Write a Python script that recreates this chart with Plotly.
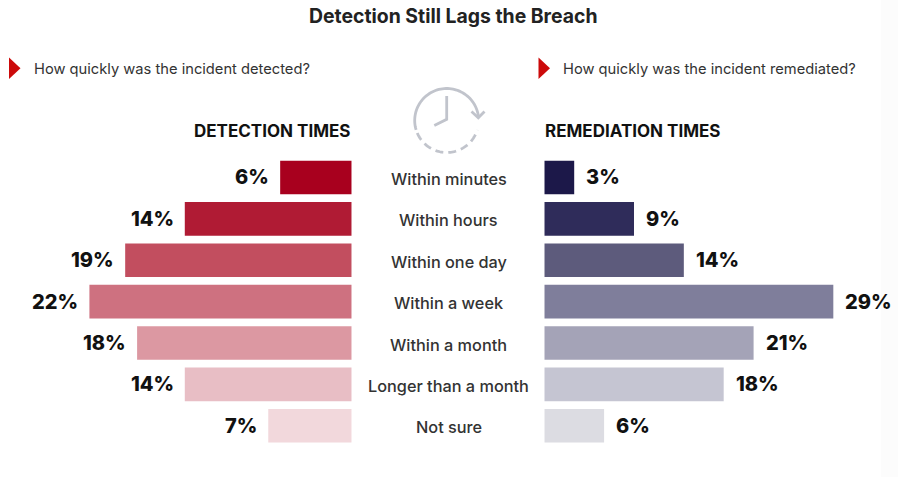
import numpy as np
import plotly.graph_objects as go

# ---------------- data ----------------
categories = ["Within minutes", "Within hours", "Within one day", "Within a week",
              "Within a month", "Longer than a month", "Not sure"]
detection = [6, 14, 19, 22, 18, 14, 7]
remediation = [3, 9, 14, 29, 21, 18, 6]
det_colors = ["#a8001e", "#b01b34", "#c24e5f", "#ce7180", "#dc98a2", "#e8bec5", "#f2d8dc"]
rem_colors = ["#1c1849", "#2f2c5a", "#5d5b7c", "#7f7e9b", "#a4a3b7", "#c5c5d2", "#dcdce2"]

title = "Detection Still Lags the Breach"
left_question = "How quickly was the incident detected?"
right_question = "How quickly was the incident remediated?"
left_header = "DETECTION TIMES"
right_header = "REMEDIATION TIMES"

# ---------------- layout helpers ----------------
W, H = 898, 477
def px(x):
    return x / W
def py(y):
    return 1 - y / H

FONT = "Inter, Roboto, sans-serif"

fig = go.Figure()
fig.add_trace(go.Bar(y=categories, x=detection, orientation="h", xaxis="x", yaxis="y",
                     marker=dict(color=det_colors, line_width=0), hoverinfo="skip",
                     showlegend=False))
fig.add_trace(go.Bar(y=categories, x=remediation, orientation="h", xaxis="x2", yaxis="y2",
                     marker=dict(color=rem_colors, line_width=0), hoverinfo="skip",
                     showlegend=False))

ydom = [py(446.5), py(156.8)]
fig.update_layout(
    width=W, height=H,
    margin=dict(l=0, r=0, t=0, b=0),
    paper_bgcolor="white", plot_bgcolor="rgba(0,0,0,0)",
    bargap=0.188,
    font=dict(family=FONT, color="#333333"),
    xaxis=dict(domain=[0, px(351.7)], range=[29.5, 0], visible=False, fixedrange=True),
    xaxis2=dict(domain=[px(544.3), 1], range=[0, 35.49], visible=False, fixedrange=True),
    yaxis=dict(domain=ydom, anchor="x", type="category", categoryorder="array",
               categoryarray=categories, range=[6.5, -0.5], visible=False),
    yaxis2=dict(domain=ydom, anchor="x2", type="category", categoryorder="array",
                categoryarray=categories, range=[6.5, -0.5], visible=False),
)

ann = []
# title
ann.append(dict(x=px(453.5), y=py(16), xref="paper", yref="paper", text=f"<b>{title}</b>",
                showarrow=False, xanchor="center", yanchor="middle",
                font=dict(size=19.4, color="#222222", family=FONT)))
# questions
ann.append(dict(x=px(31.5), y=py(68.5), xref="paper", yref="paper", text=left_question,
                showarrow=False, xanchor="left", yanchor="middle",
                font=dict(size=14.7, color="#333333", family=FONT)))
ann.append(dict(x=px(561), y=py(68.5), xref="paper", yref="paper", text=right_question,
                showarrow=False, xanchor="left", yanchor="middle",
                font=dict(size=14.7, color="#333333", family=FONT)))
# headers
ann.append(dict(x=px(351.5), y=py(131), xref="paper", yref="paper", text=f"<b>{left_header}</b>",
                showarrow=False, xanchor="right", yanchor="middle",
                font=dict(size=17, color="#111111", family=FONT)))
ann.append(dict(x=px(542.5), y=py(131), xref="paper", yref="paper", text=f"<b>{right_header}</b>",
                showarrow=False, xanchor="left", yanchor="middle",
                font=dict(size=17, color="#111111", family=FONT)))
# category labels
for c in categories:
    ann.append(dict(x=px(448.5), y=c, xref="paper", yref="y", text=c, showarrow=False,
                    xanchor="center", yanchor="middle", yshift=-1.5,
                    font=dict(size=16.3, color="#333333", family=FONT, weight=500)))
# value labels
for c, v in zip(categories, detection):
    ann.append(dict(x=v, y=c, xref="x", yref="y", text=f"{v}%", showarrow=False,
                    xanchor="right", yanchor="middle", xshift=-9,
                    font=dict(size=20, color="#111111", family=FONT, weight=800)))
for c, v in zip(categories, remediation):
    ann.append(dict(x=v, y=c, xref="x2", yref="y2", text=f"{v}%", showarrow=False,
                    xanchor="left", yanchor="middle", xshift=10,
                    font=dict(size=20, color="#111111", family=FONT, weight=800)))
fig.update_layout(annotations=ann)

# ---------------- decorations ----------------
shapes = []
# faint strip at right edge
shapes.append(dict(type="rect", xref="paper", yref="paper", x0=px(881), x1=1, y0=0, y1=1,
                   fillcolor="#fcfcfc", line_width=0, layer="below"))
# red triangles
def tri(x0, x1, y0, y1):
    ym = (y0 + y1) / 2
    return (f"M {px(x0)} {py(y0)} L {px(x1)} {py(ym)} L {px(x0)} {py(y1)} Z")
shapes.append(dict(type="path", xref="paper", yref="paper", path=tri(9, 20.5, 57.5, 79),
                   fillcolor="#cc0a0a", line_width=0))
shapes.append(dict(type="path", xref="paper", yref="paper", path=tri(538.5, 550, 57.5, 79),
                   fillcolor="#cc0a0a", line_width=0))

# clock icon
cx, cy, r = 446.7, 120.5, 32.0
ICON = "#c1c4cc"
def arc(a0, a1, n=60):
    t = np.radians(np.linspace(a0, a1, n))
    xs = cx + r * np.cos(t)
    ys = cy - r * np.sin(t)
    pts = [f"{px(x):.6f} {py(y):.6f}" for x, y in zip(xs, ys)]
    return "M " + " L ".join(pts)
shapes.append(dict(type="path", xref="paper", yref="paper", path=arc(197, 8),
                   line=dict(color=ICON, width=2.8)))
shapes.append(dict(type="path", xref="paper", yref="paper", path=arc(203, 343),
                   line=dict(color=ICON, width=2.8, dash="8px,5px")))
def poly(points):
    return "M " + " L ".join(f"{px(x):.6f} {py(y):.6f}" for x, y in points)
shapes.append(dict(type="path", xref="paper", yref="paper",
                   path=poly([(471.5, 111.5), (478.3, 117.8), (484.5, 111.5)]),
                   line=dict(color=ICON, width=2.8)))
shapes.append(dict(type="path", xref="paper", yref="paper",
                   path=poly([(446.7, 96), (446.7, 119.3), (434.3, 125.5)]),
                   line=dict(color=ICON, width=2.8)))
fig.update_layout(shapes=shapes)

fig.write_html("out.html",
               config={"displayModeBar": False},
               post_script="document.body.style.margin='0';document.body.style.overflow='hidden';")
